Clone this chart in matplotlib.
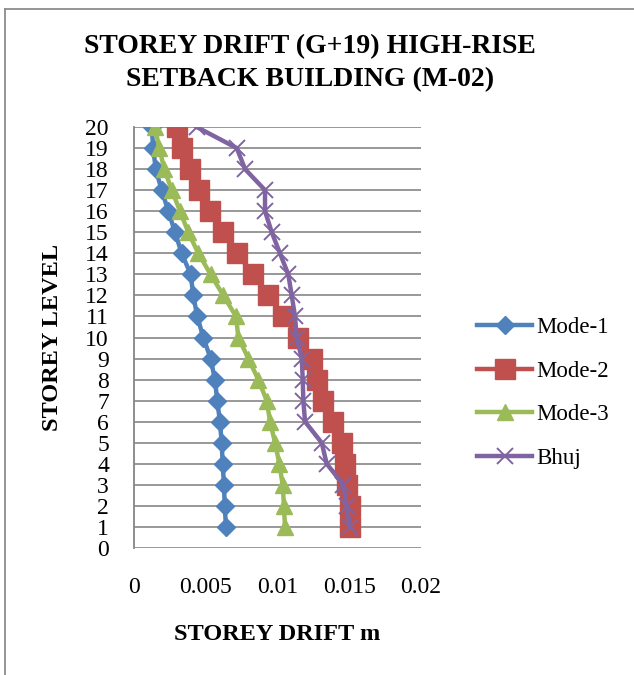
import numpy as np
import matplotlib
matplotlib.use('Agg')
import matplotlib.pyplot as plt
from matplotlib.lines import Line2D

# Storey levels and drift (m) for each load case
levels = list(range(20, 0, -1))
mode_1 = [0.00123, 0.00134, 0.00151, 0.00193, 0.00239, 0.00286, 0.00332, 0.00395, 0.00413, 0.00441,
          0.00483, 0.00534, 0.00564, 0.00580, 0.00599, 0.00611, 0.00618, 0.00627, 0.00632, 0.00641]
mode_2 = [0.00298, 0.00332, 0.00390, 0.00455, 0.00530, 0.00622, 0.00720, 0.00827, 0.00936, 0.01040,
          0.01145, 0.01238, 0.01273, 0.01319, 0.01389, 0.01447, 0.01470, 0.01486, 0.01505, 0.01505]
mode_3 = [0.00146, 0.00176, 0.00211, 0.00263, 0.00321, 0.00378, 0.00448, 0.00534, 0.00622, 0.00711,
          0.00727, 0.00797, 0.00866, 0.00925, 0.00948, 0.00983, 0.01013, 0.01036, 0.01045, 0.01052]
bhuj = [0.00437, 0.00716, 0.00774, 0.00913, 0.00913, 0.00960, 0.01017, 0.01075, 0.01099, 0.01122,
        0.01134, 0.01169, 0.01176, 0.01180, 0.01192, 0.01308, 0.01343, 0.01459, 0.01482, 0.01505]

x_ticks = [0, 0.005, 0.01, 0.015, 0.02]
x_tick_labels = ['0', '0.005', '0.01', '0.015', '0.02']
y_ticks = list(range(0, 21))

plt.rcParams['font.family'] = ['Liberation Serif', 'DejaVu Serif']

W, H = 634, 675
fig = plt.figure(figsize=(W / 100, H / 100), dpi=100)
ax = fig.add_axes([134 / W, 1 - 548 / H, 287 / W, 421 / H])

grid_col = '#868686'
for y in y_ticks:
    ax.axhline(y, color=grid_col, lw=1.2, zorder=1)

# one line per series, excel 2007 palette
ax.plot(mode_1, levels, color='#4F81BD', lw=3.2, marker='D', ms=9, label='Mode-1', zorder=3)
ax.plot(mode_2, levels, color='#C0504D', lw=3.2, marker='s', ms=14, label='Mode-2', zorder=3)
ax.plot(mode_3, levels, color='#9BBB59', lw=3.2, marker='^', ms=12, label='Mode-3', zorder=3)
ax.plot(bhuj, levels, color='#8064A2', lw=3.2, marker='x', ms=12, mew=1.4, label='Bhuj', zorder=3)

ax.set_xlim(0, 0.02)
ax.set_ylim(0, 20)
ax.set_xticks(x_ticks)
ax.set_xticklabels(x_tick_labels)
ax.set_yticks(y_ticks)
ax.tick_params(axis='both', length=0, labelsize=17)
ax.tick_params(axis='x', pad=21)
ax.tick_params(axis='y', pad=18)
for s in ['top', 'right', 'bottom']:
    ax.spines[s].set_visible(False)
ax.spines['left'].set_color(grid_col)
ax.spines['left'].set_linewidth(1.3)

ax.legend(loc='center left', bbox_to_anchor=(477 / W, 1 - 393 / H), bbox_transform=fig.transFigure,
          frameon=False, fontsize=16.5, handlelength=2.4, handletextpad=0.2,
          labelspacing=1.0, borderpad=0, borderaxespad=0)

fig.text(310 / W, 1 - 63 / H, 'STOREY DRIFT (G+19) HIGH-RISE\nSETBACK BUILDING (M-02)',
         ha='center', va='center', fontsize=20, fontweight='bold', linespacing=1.38)
fig.text(277 / W, 1 - 634 / H, 'STOREY DRIFT m', ha='center', va='center',
         fontsize=17.5, fontweight='bold')
fig.text(53 / W, 1 - 337 / H, 'STOREY LEVEL', ha='center', va='center', rotation=90,
         fontsize=17.5, fontweight='bold')

# chart border (left and top edges show)
fig.add_artist(Line2D([5 / W, 5 / W], [0, 1 - 9 / H], transform=fig.transFigure, color='#8c8c8c', lw=1.3))
fig.add_artist(Line2D([5 / W, 1], [1 - 9 / H, 1 - 9 / H], transform=fig.transFigure, color='#8c8c8c', lw=1.3))

fig.savefig('out.png', dpi=100)
